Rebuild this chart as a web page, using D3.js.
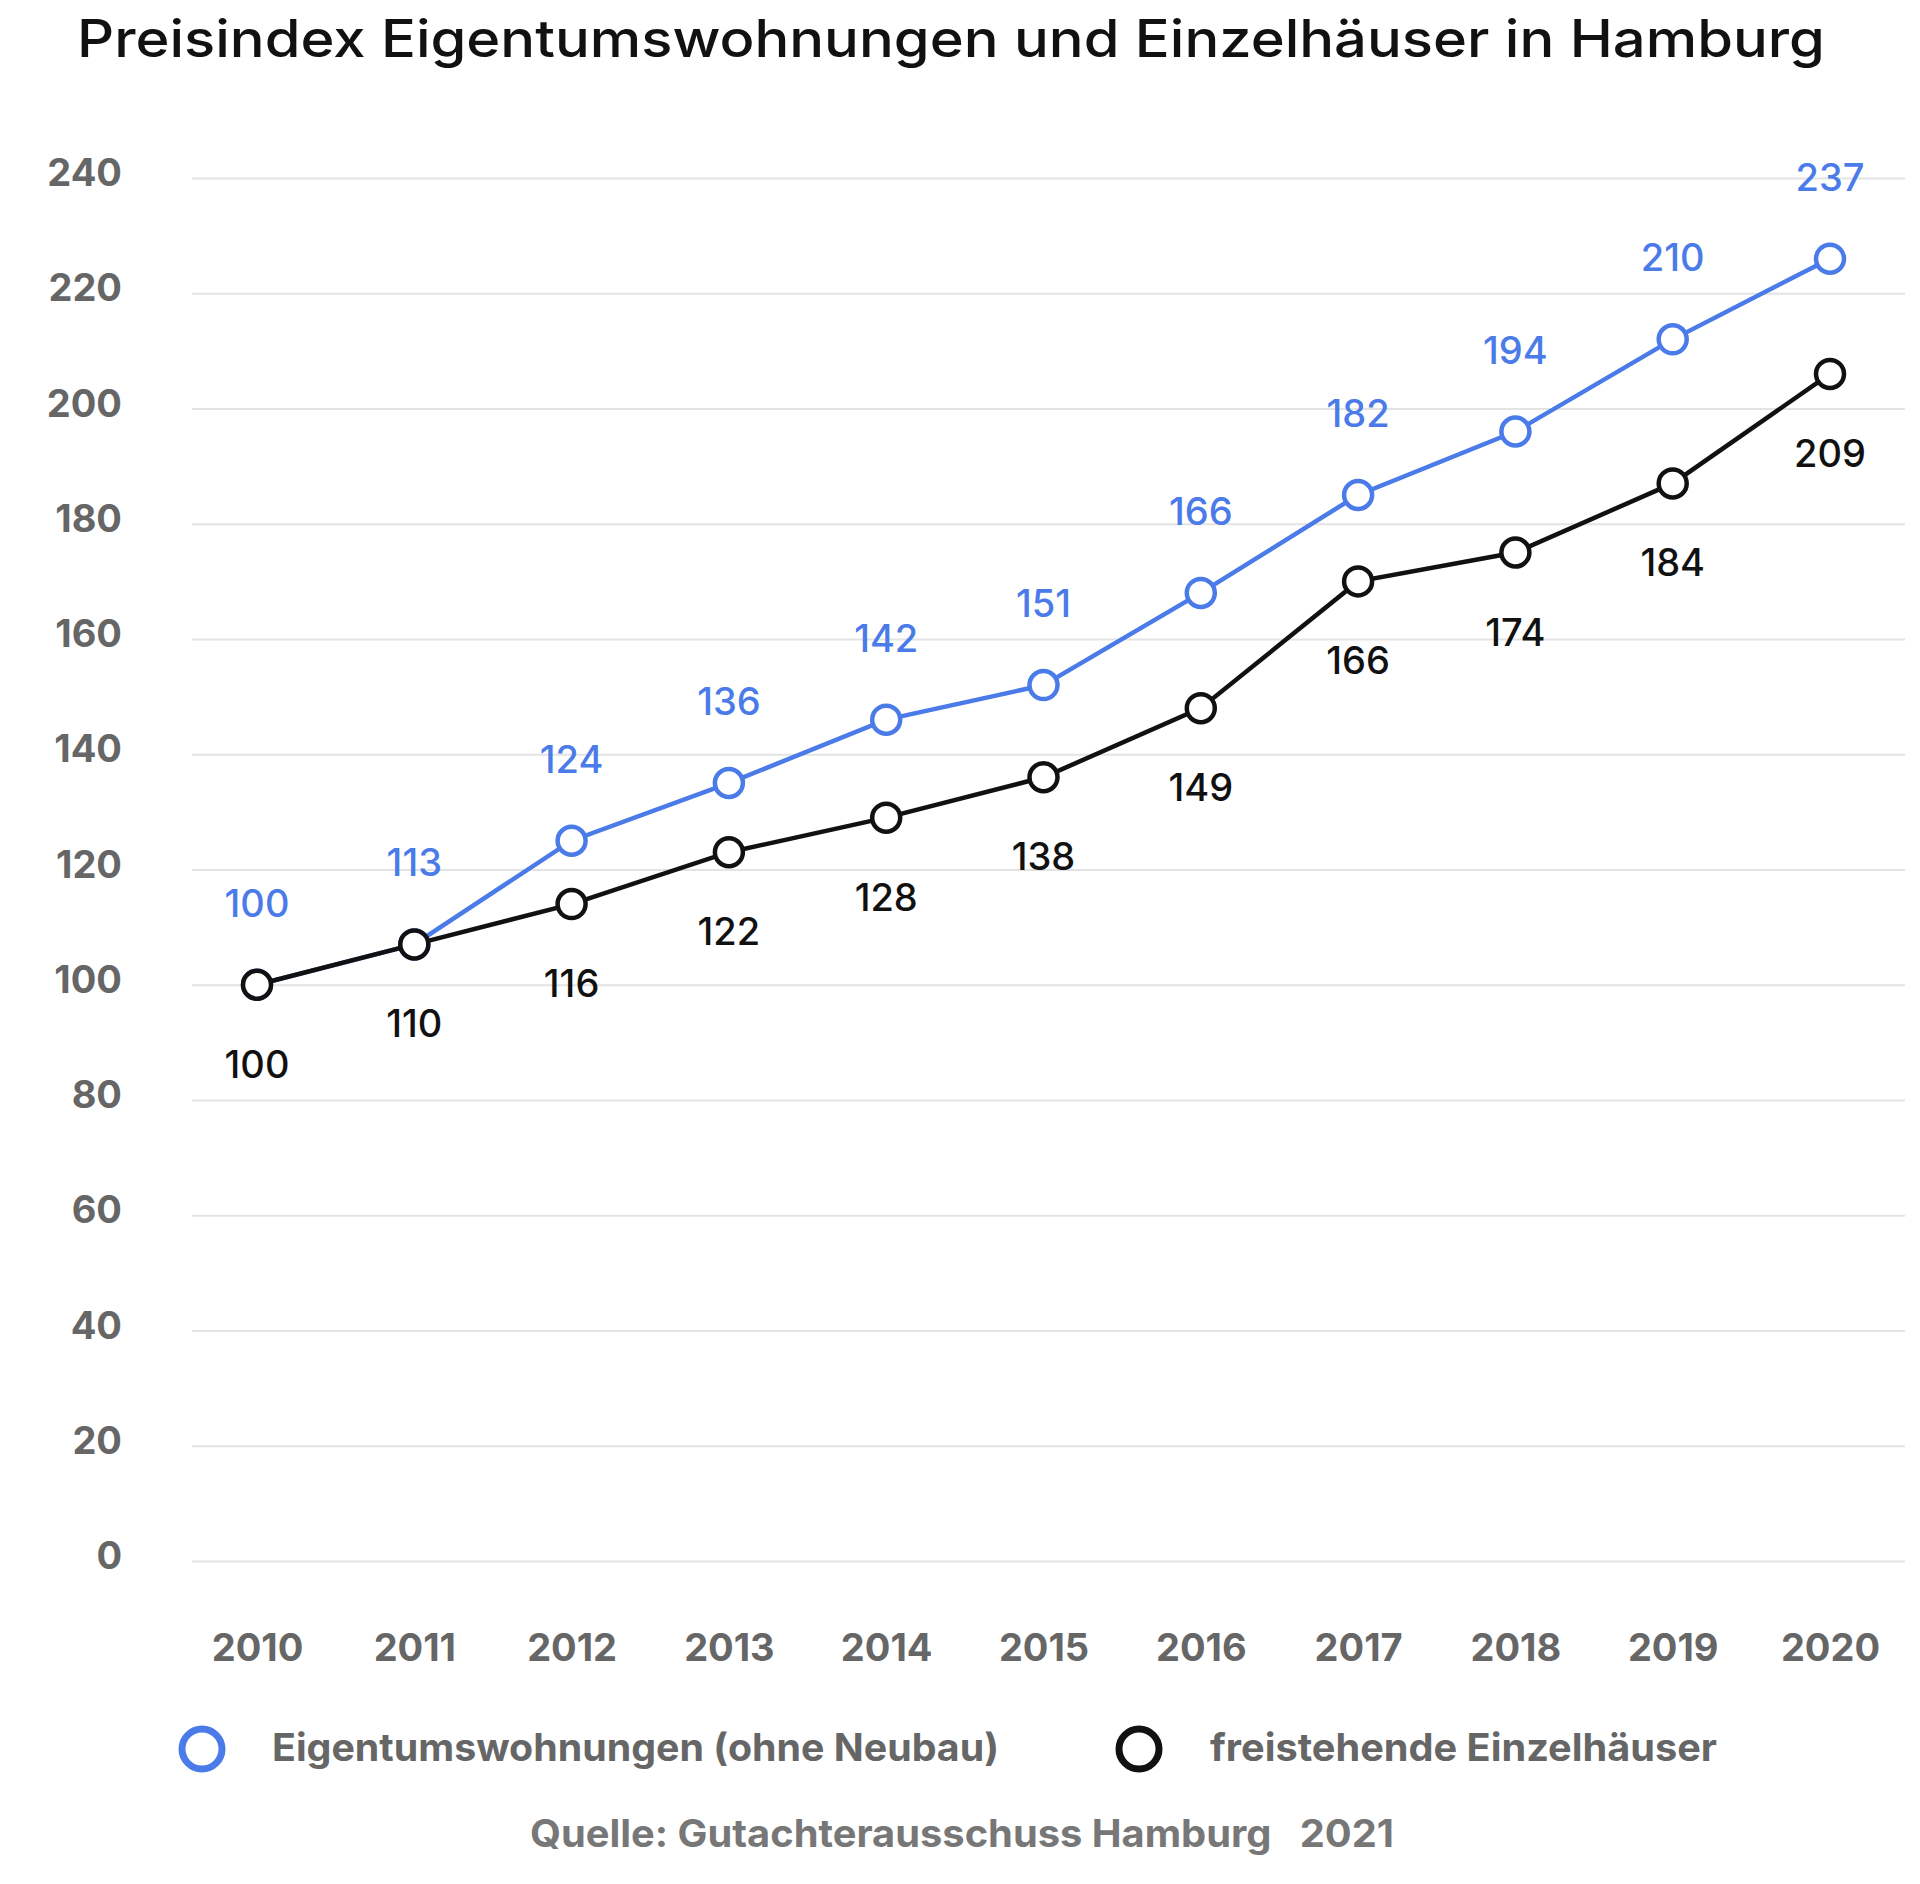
<!DOCTYPE html><html><head><meta charset="utf-8"><script src="https://cdn.jsdelivr.net/npm/d3@7"></script>
<style>body{margin:0;background:#fff}text{font-family:Inter,Lato,sans-serif}</style></head><body>
<svg id="c" width="1920" height="1884"></svg>
<script>
const years=["2010","2011","2012","2013","2014","2015","2016","2017","2018","2019","2020"];
const wohnungen=[100,107,125,135,146,152,168,185,196,212,226];
const wohnungenLabels=[100,113,124,136,142,151,166,182,194,210,237];
const haeuser=[100,107,114,123,129,136,148,170,175,187,206];
const haeuserLabels=[100,110,116,122,128,138,149,166,174,184,209];
const yTicks=[0,20,40,60,80,100,120,140,160,180,200,220,240];
const blue="#4a7be8";
const svg=d3.select("#c");
const x=d3.scalePoint().domain(years).range([257,1830]);
const y=d3.scaleLinear().domain([0,240]).range([1561,178]);
svg.append("text").attr("x",77).attr("y",57).attr("font-size",52).attr("font-weight",500).attr("fill","#111").attr("textLength",1748).attr("lengthAdjust","spacingAndGlyphs").text("Preisindex Eigentumswohnungen und Einzelhäuser in Hamburg");
const ya=svg.append("g").attr("transform","translate(192,0)").call(d3.axisLeft(y).tickValues(yTicks).tickSize(-1713).tickPadding(70));
ya.select(".domain").remove();
ya.selectAll("line").attr("stroke","#e3e3e3").attr("stroke-width",2);
ya.selectAll("text").attr("font-size",38).attr("font-weight",700).attr("fill","#666").attr("dy","0.2em");
const xa=svg.append("g").attr("transform","translate(0,1634)").call(d3.axisBottom(x).tickSize(0).tickPadding(0));
xa.select(".domain").remove();
xa.selectAll("text").attr("font-size",38).attr("font-weight",700).attr("fill","#666").attr("dy","0.7em");
function series(vals,labels,color,above){
  const pts=years.map((yr,i)=>[x(yr),y(vals[i])]);
  svg.append("path").attr("d",d3.line()(pts)).attr("fill","none").attr("stroke",color).attr("stroke-width",4.5);
  svg.selectAll(null).data(pts).join("circle").attr("cx",d=>d[0]).attr("cy",d=>d[1]).attr("r",14).attr("fill","#fff").attr("stroke",color).attr("stroke-width",4.5);
  svg.selectAll(null).data(pts).join("text").attr("x",d=>d[0]).attr("y",d=>above?d[1]-68:d[1]+93).attr("text-anchor","middle").attr("font-size",38).attr("font-weight",500).attr("fill",color).text((d,i)=>labels[i]);
}
series(wohnungen,wohnungenLabels,blue,true);
series(haeuser,haeuserLabels,"#111",false);
const leg=[{t:"Eigentumswohnungen (ohne Neubau)",c:blue,x:202,tx:272,w:727},{t:"freistehende Einzelhäuser",c:"#111",x:1139,tx:1210,w:507}];
leg.forEach(l=>{
  svg.append("circle").attr("cx",l.x).attr("cy",1749).attr("r",20).attr("fill","#fff").attr("stroke",l.c).attr("stroke-width",7);
  svg.append("text").attr("x",l.tx).attr("y",1761).attr("font-size",38).attr("font-weight",700).attr("fill","#666").attr("textLength",l.w).attr("lengthAdjust","spacingAndGlyphs").text(l.t);
});
svg.append("text").attr("x",530).attr("y",1847).attr("font-size",38).attr("font-weight",700).attr("fill","#777").attr("xml:space","preserve").attr("textLength",864).attr("lengthAdjust","spacingAndGlyphs").text("Quelle: Gutachterausschuss Hamburg   2021");
</script></body></html>
